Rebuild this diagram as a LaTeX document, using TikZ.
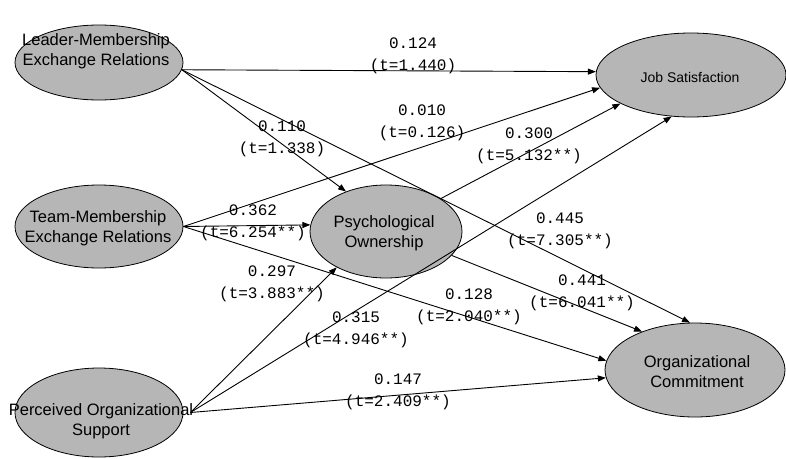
\documentclass[tikz,border=0pt]{standalone}
\usepackage{fontspec}
\setmainfont{Liberation Sans}
\newfontfamily\labfont{Liberation Mono}
\usetikzlibrary{arrows.meta,shapes.geometric}
\definecolor{latfill}{RGB}{182,182,182}
\begin{document}
\begin{tikzpicture}[x=1pt,y=-1pt,
 latent/.style={ellipse, draw=black, line width=0.8pt, fill=latfill, inner sep=0pt},
 lattext/.style={align=center, font=\fontsize{16.5}{20}\selectfont, inner sep=0pt},
 coef/.style={align=center, font=\labfont\fontsize{16}{22}\selectfont, inner sep=0pt},
 arr/.style={line width=0.9pt, -{Triangle[length=8pt,width=6pt]}}
]
\useasboundingbox (0,0) rectangle (786,458);

% latent variables
\node[latent, minimum width=168pt, minimum height=75pt] (lmx) at (99,62.5) {};
\node[latent, minimum width=168pt, minimum height=83pt] (tmx) at (99,226.5) {};
\node[latent, minimum width=168pt, minimum height=89pt] (pos) at (99,412.5) {};
\node[latent, minimum width=152pt, minimum height=93pt] (po) at (386,231.5) {};
\node[latent, minimum width=190pt, minimum height=84pt] (js) at (691,75) {};
\node[latent, minimum width=180pt, minimum height=94pt] (oc) at (695,370) {};

\coordinate (poso) at ([xshift=7pt]pos.east);

% paths
\draw[arr] (lmx.-5) -- (js.178);
\draw[arr] (lmx.-5) -- (po.135);
\draw[arr] (lmx.-5) -- (oc.96);
\draw[arr] (tmx.east) -- (js.188);
\draw[arr] (tmx.east) -- (po.175);
\draw[arr] (tmx.east) -- (oc.174);
\draw[arr] (po.31) -- (js.202);
\draw[arr] (po.-20) -- (oc.144);
\draw[arr] (poso) -- (po.216);
\draw[arr] (poso) -- (js.245);
\draw[arr] (poso) -- (oc.185);

% texts of latent variables
\node[lattext] (lmxt) at (96,51) {Leader-Membership\\Exchange Relations};
\node[lattext] (tmxt) at (98,228) {Team-Membership\\Exchange Relations};
\node[lattext] (post) at (101,421) {Perceived Organizational\\Support};
\node[lattext] (pot) at (384,233) {Psychological\\Ownership};
\node[lattext, font=\fontsize{14}{17}\selectfont] (jst) at (690,77) {Job Satisfaction};
\node[lattext] (oct) at (697,371.5) {Organizational\\Commitment};

% coefficients
\node[coef] (c1) at (413,56) {0.124\\(t=1.440)};
\node[coef] (c2) at (282,138.5) {0.110\\(t=1.338)};
\node[coef] (c3) at (422,123) {0.010\\(t=0.126)};
\node[coef] (c4) at (529,146) {0.300\\(t=5.132**)};
\node[coef] (c5) at (253,222.5) {0.362\\(t=6.254**)};
\node[coef] (c6) at (560,231) {0.445\\(t=7.305**)};
\node[coef] (c7) at (272,284) {0.297\\(t=3.883**)};
\node[coef] (c8) at (582,292.5) {0.441\\(t=6.041**)};
\node[coef] (c9) at (469,306.5) {0.128\\(t=2.040**)};
\node[coef] (c10) at (356,330) {0.315\\(t=4.946**)};
\node[coef] (c11) at (398,391.5) {0.147\\(t=2.409**)};
\end{tikzpicture}
\end{document}
